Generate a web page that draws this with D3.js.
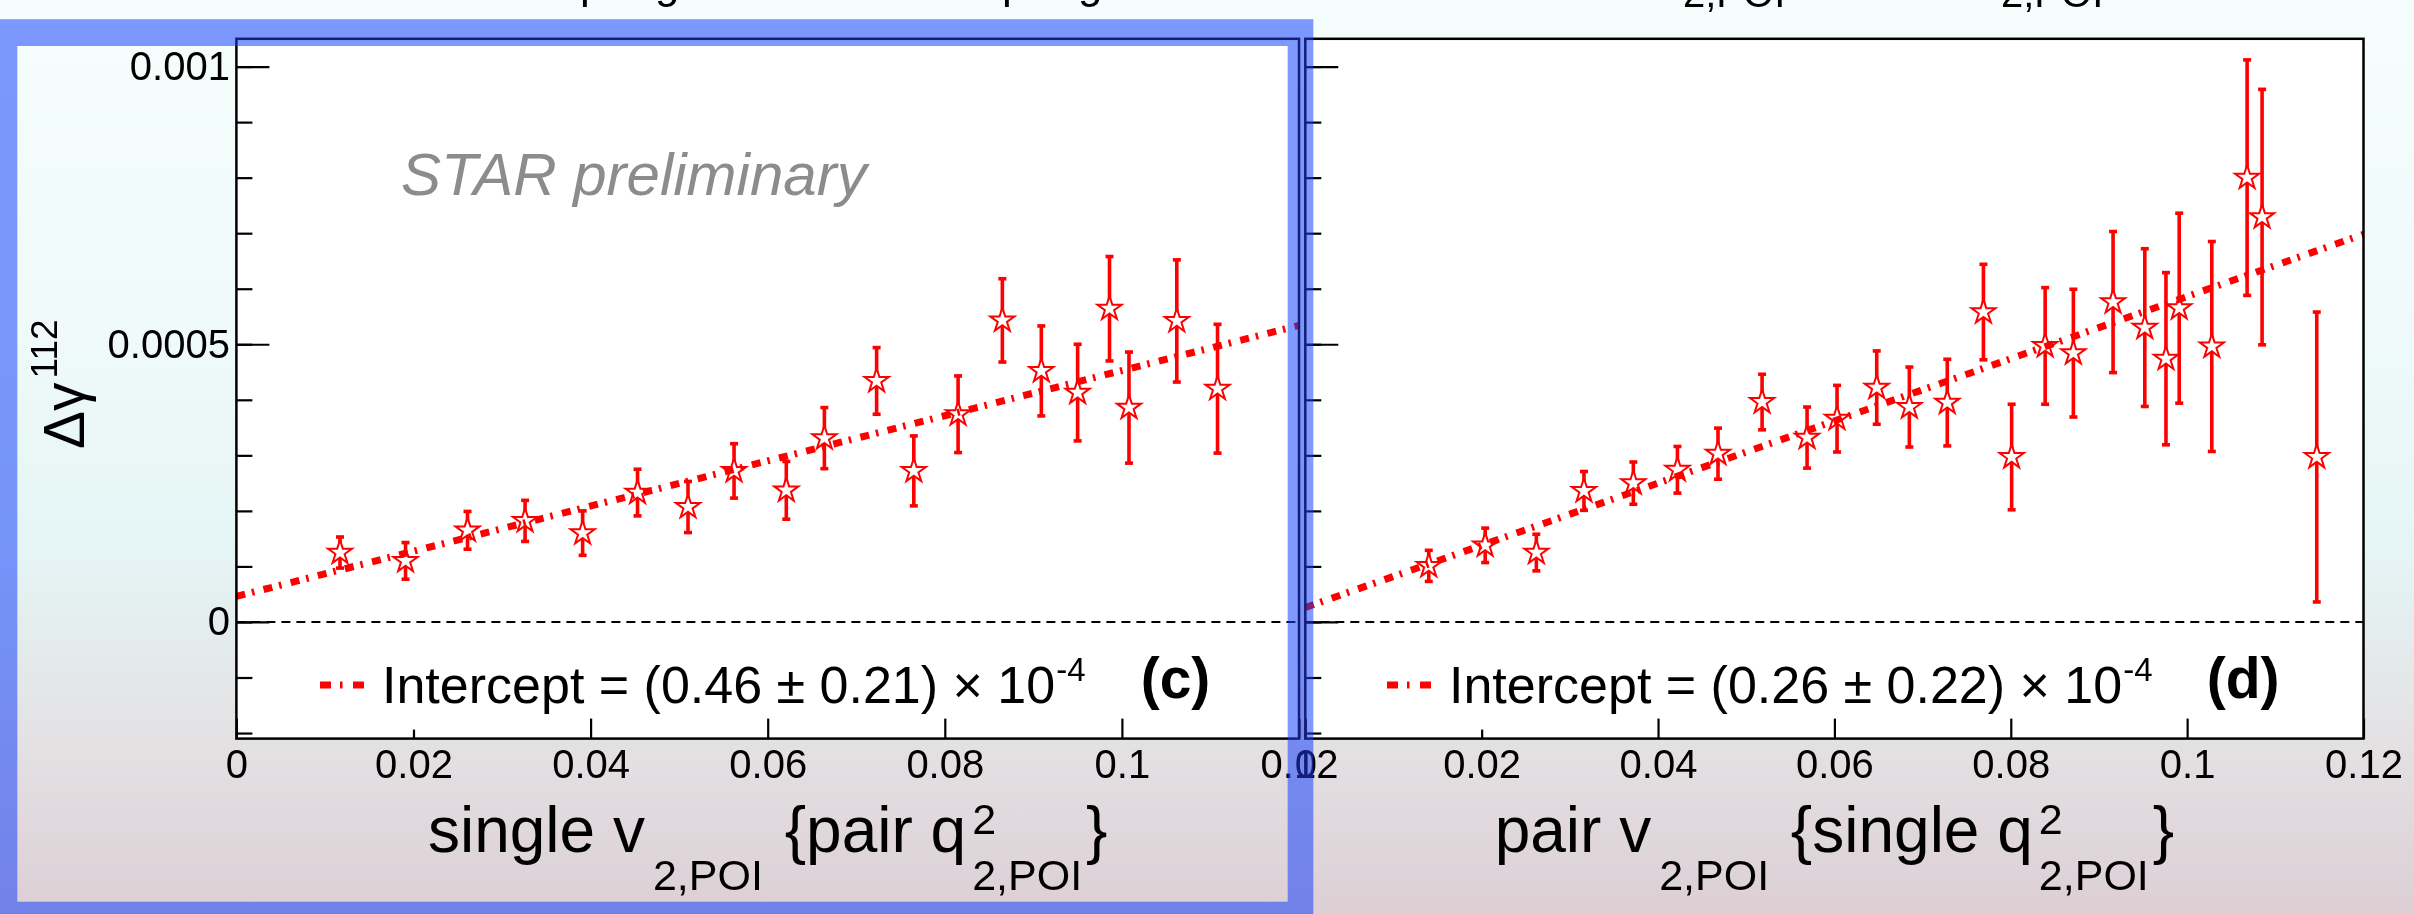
<!DOCTYPE html>
<html>
<head>
<meta charset="utf-8">
<script src="https://cdn.jsdelivr.net/npm/d3@7"></script>
<style>
  html, body { margin: 0; padding: 0; background: #f6fdfd; overflow: hidden; }
  svg { display: block; font-family: 'Liberation Sans', Arial, Helvetica, sans-serif; }
</style>
</head>
<body>
<div id="chart"></div>
<script>
// axis ticks
const xTickValues = [0, 0.02, 0.04, 0.06, 0.08, 0.1, 0.12];
const xTickLabels = ['0', '0.02', '0.04', '0.06', '0.08', '0.1', '0.12'];
const yTickValues = [0, 0.0005, 0.001];
const yTickLabels = ['0', '0.0005', '0.001'];

// panel (c): single v2 {pair q2}
const singleV2 = [0.0117, 0.0191, 0.0261, 0.0326, 0.0391, 0.0453, 0.0510, 0.0562, 0.0621, 0.0664,
                  0.0723, 0.0765, 0.0815, 0.0865, 0.0909, 0.0950, 0.0986, 0.1008, 0.1062, 0.1108];
const gammaC = [1.25e-4, 1.10e-4, 1.65e-4, 1.82e-4, 1.60e-4, 2.33e-4, 2.07e-4, 2.72e-4, 2.37e-4, 3.31e-4,
                4.34e-4, 2.72e-4, 3.74e-4, 5.43e-4, 4.52e-4, 4.13e-4, 5.64e-4, 3.86e-4, 5.42e-4, 4.20e-4];
const errC = [0.28e-4, 0.33e-4, 0.34e-4, 0.37e-4, 0.40e-4, 0.42e-4, 0.46e-4, 0.49e-4, 0.52e-4, 0.55e-4,
              0.60e-4, 0.63e-4, 0.69e-4, 0.75e-4, 0.81e-4, 0.87e-4, 0.94e-4, 1.00e-4, 1.10e-4, 1.16e-4];
const fitC = [[0, 0.46e-4], [0.12, 5.34e-4]];

// panel (d): pair v2 {single q2}
const pairV2 = [0.0140, 0.0204, 0.0262, 0.0316, 0.0372, 0.0422, 0.0468, 0.0518, 0.0569, 0.0603,
                0.0648, 0.0685, 0.0728, 0.0769, 0.0801, 0.0839, 0.0871, 0.0916, 0.0952, 0.0976,
                0.0991, 0.1028, 0.1068, 0.1085, 0.1147];
const gammaD = [1.01e-4, 1.38e-4, 1.25e-4, 2.36e-4, 2.50e-4, 2.74e-4, 3.03e-4, 3.96e-4, 3.32e-4, 3.66e-4,
                4.22e-4, 3.87e-4, 3.95e-4, 5.58e-4, 2.97e-4, 4.97e-4, 4.84e-4, 5.76e-4, 5.30e-4, 4.74e-4,
                5.65e-4, 4.96e-4, 8.00e-4, 7.29e-4, 2.97e-4];
const errD = [0.28e-4, 0.31e-4, 0.33e-4, 0.35e-4, 0.38e-4, 0.42e-4, 0.46e-4, 0.50e-4, 0.55e-4, 0.60e-4,
              0.66e-4, 0.72e-4, 0.78e-4, 0.86e-4, 0.95e-4, 1.05e-4, 1.15e-4, 1.27e-4, 1.42e-4, 1.55e-4,
              1.71e-4, 1.89e-4, 2.12e-4, 2.30e-4, 2.61e-4];
const fitD = [[0, 0.26e-4], [0.12, 6.98e-4]];

const RED = '#ff0000';

// lays out a row of text pieces (sub/superscripts) one after another
function richText(parent, parts) {
    const g = parent.append('g');
    let x = 0, pending = 0;
    parts.forEach(p => {
        const t = g.append('text')
            .attr('x', x)
            .attr('y', p.dy || 0)
            .attr('xml:space', 'preserve')
            .style('white-space', 'pre')
            .style('font-size', p.size + 'px')
            .text(p.text);
        const w = t.node().getComputedTextLength();
        if (p.stack) {
            pending = w;
        } else {
            x += Math.max(w, pending) + (p.gap || 0);
            pending = 0;
        }
    });
    g.width = x;
    return g;
}

class Panel {
    constructor(svg, config, data) {
        this.svg = svg;
        this.config = config;
        this.data = data;
        this.initVis();
    }

    initVis() {
        let vis = this;
        const c = vis.config;

        vis.xScale = d3.scaleLinear().domain([0, 0.12]).range([c.x0, c.x1]);
        vis.yScale = d3.scaleLinear().domain([-0.00021, 0.00105]).range([738.6, 38.8]);

        const [top, bottom] = [vis.yScale.range()[1], vis.yScale.range()[0]];
        vis.g = vis.svg.append('g');

        vis.g.append('rect')
            .attr('x', c.x0).attr('y', top)
            .attr('width', c.x1 - c.x0).attr('height', bottom - top)
            .attr('fill', '#ffffff');

        // zero line
        vis.g.append('line')
            .attr('x1', c.x0).attr('x2', c.x1)
            .attr('y1', vis.yScale(0)).attr('y2', vis.yScale(0))
            .attr('stroke', '#000').attr('stroke-width', 2)
            .attr('stroke-dasharray', '9,6');

        vis.drawAxes();
        vis.drawPoints();

        // linear fit
        vis.g.append('path')
            .datum(c.fit)
            .attr('d', d3.line().x(d => vis.xScale(d[0])).y(d => vis.yScale(d[1])))
            .attr('fill', 'none')
            .attr('stroke', RED)
            .attr('stroke-width', 7)
            .attr('stroke-dasharray', '9,7,2.5,9.5');

        // frame
        vis.g.append('rect')
            .attr('x', c.x0).attr('y', top)
            .attr('width', c.x1 - c.x0).attr('height', bottom - top)
            .attr('fill', 'none')
            .attr('stroke', '#000').attr('stroke-width', 2.5);

        vis.drawLegend();

        vis.g.append('text')
            .attr('x', c.tagX).attr('y', 698)
            .style('font-size', '57px').style('font-weight', 'bold')
            .text(c.tag);

        // x axis title
        const title = richText(vis.g, c.title);
        title.attr('transform', `translate(${(c.x0 + c.x1) / 2 - title.width / 2},852)`);
    }

    drawAxes() {
        let vis = this;
        const c = vis.config;
        const bottom = vis.yScale.range()[0];

        const yMinor = vis.g.append('g')
            .attr('transform', `translate(${c.x0},0)`)
            .call(d3.axisLeft(vis.yScale).ticks(12).tickSize(-16).tickFormat(''));
        yMinor.select('.domain').remove();

        const yMajor = vis.g.append('g')
            .attr('transform', `translate(${c.x0},0)`)
            .style('font-size', '40px')
            .call(d3.axisLeft(vis.yScale)
                .tickValues(yTickValues)
                .tickSize(-33)
                .tickPadding(6.5)
                .tickFormat((d, i) => c.yLabels ? yTickLabels[i] : ''));
        yMajor.select('.domain').remove();

        const xAxis = vis.g.append('g')
            .attr('transform', `translate(0,${bottom})`)
            .style('font-size', '40px')
            .call(d3.axisBottom(vis.xScale)
                .tickValues(xTickValues)
                .tickSize(-20)
                .tickPadding(11)
                .tickFormat((d, i) => xTickLabels[i]));
        xAxis.select('.domain').remove();
        xAxis.selectAll('.tick line')
            .filter(d => d === 0.02)
            .attr('y2', -9);

        vis.g.selectAll('.tick line').attr('stroke', '#000').attr('stroke-width', 2.2);
        vis.g.selectAll('.tick text').attr('fill', '#000');
    }

    drawPoints() {
        let vis = this;
        const pts = vis.data.x.map((x, i) => ({ x, y: vis.data.y[i], e: vis.data.e[i] }));

        const bars = vis.g.append('g').attr('stroke', RED);
        bars.selectAll('.bar')
            .data(pts)
            .join('line')
            .attr('class', 'bar')
            .attr('x1', d => vis.xScale(d.x)).attr('x2', d => vis.xScale(d.x))
            .attr('y1', d => vis.yScale(d.y - d.e)).attr('y2', d => vis.yScale(d.y + d.e))
            .attr('stroke-width', 3.6);
        ['lo', 'hi'].forEach(k => {
            bars.selectAll('.cap-' + k)
                .data(pts)
                .join('line')
                .attr('class', 'cap-' + k)
                .attr('x1', d => vis.xScale(d.x) - 4).attr('x2', d => vis.xScale(d.x) + 4)
                .attr('y1', d => vis.yScale(k === 'lo' ? d.y - d.e : d.y + d.e))
                .attr('y2', d => vis.yScale(k === 'lo' ? d.y - d.e : d.y + d.e))
                .attr('stroke-width', 3.6);
        });

        vis.g.selectAll('.star')
            .data(pts)
            .join('path')
            .attr('class', 'star')
            .attr('d', d3.symbol().type(d3.symbolStar).size(180))
            .attr('transform', d => `translate(${vis.xScale(d.x)},${vis.yScale(d.y)})`)
            .attr('fill', '#fff')
            .attr('stroke', RED)
            .attr('stroke-width', 2);
    }

    drawLegend() {
        let vis = this;
        const c = vis.config;

        vis.g.append('line')
            .attr('x1', c.legendX).attr('x2', c.legendX + 48)
            .attr('y1', 685).attr('y2', 685)
            .attr('stroke', RED).attr('stroke-width', 7)
            .attr('stroke-dasharray', '11,9,2.5,10.5');

        const txt = richText(vis.g, [
            { text: c.legendText, size: 52, gap: 1 },
            { text: '-4', size: 33, dy: -22 }
        ]);
        txt.attr('transform', `translate(${c.legendX + 62},703)`);
    }
}

const svg = d3.select('#chart').append('svg')
    .attr('width', 2414)
    .attr('height', 914);

const defs = svg.append('defs');
const bg = defs.append('linearGradient')
    .attr('id', 'slide-bg')
    .attr('x1', 0).attr('y1', 0).attr('x2', 0).attr('y2', 1);
[['0%', '#f6fdfd'], ['35%', '#f0fafa'], ['60%', '#e5f5f5'], ['80%', '#e4e2e4'], ['100%', '#dccfd5']]
    .forEach(([o, col]) => bg.append('stop').attr('offset', o).attr('stop-color', col));

svg.append('rect').attr('width', 2414).attr('height', 914).attr('fill', 'url(#slide-bg)');

// bits of the slide title cut off at the top edge
const clipped = svg.append('g').style('font-size', '44px').attr('fill', '#000');
[['p', 580], ['g', 655], ['p', 1002], ['g', 1078]].forEach(([t, x]) =>
    clipped.append('text').attr('x', x).attr('y', -2).text(t));
[1683, 2001].forEach(x =>
    clipped.append('text').attr('x', x).attr('y', 7).style('font-size', '40px').text('2,POI'));

const sub = 43;
new Panel(svg, {
    x0: 236.4, x1: 1299,
    fit: fitC,
    yLabels: true,
    legendX: 320,
    legendText: 'Intercept = (0.46 ± 0.21) × 10',
    tag: '(c)', tagX: 1140.7,
    title: [
        { text: 'single v', size: 64, gap: 8 },
        { text: '2,POI', size: sub, dy: 38, gap: 4 },
        { text: ' {pair q', size: 64, gap: 6 },
        { text: '2', size: sub, dy: -18, stack: true },
        { text: '2,POI', size: sub, dy: 38, gap: 4 },
        { text: '}', size: 64 }
    ]
}, { x: singleV2, y: gammaC, e: errC });

new Panel(svg, {
    x0: 1305.3, x1: 2363.5,
    fit: fitD,
    yLabels: false,
    legendX: 1387,
    legendText: 'Intercept = (0.26 ± 0.22) × 10',
    tag: '(d)', tagX: 2206.7,
    title: [
        { text: 'pair v', size: 64, gap: 8 },
        { text: '2,POI', size: sub, dy: 38, gap: 4 },
        { text: ' {single q', size: 64, gap: 6 },
        { text: '2', size: sub, dy: -18, stack: true },
        { text: '2,POI', size: sub, dy: 38, gap: 4 },
        { text: '}', size: 64 }
    ]
}, { x: pairV2, y: gammaD, e: errD });

// y axis title, shared
const yTitle = richText(svg, [
    { text: 'Δγ', size: 57, gap: 4 },
    { text: '112', size: 37, dy: -27 }
]);
yTitle.attr('transform', 'translate(84,449) rotate(-90)');

svg.append('text')
    .attr('x', 401).attr('y', 195)
    .style('font-size', '60px').style('font-style', 'italic')
    .attr('fill', '#8c8c8c')
    .text('STAR preliminary');

// blue selection frame around panel (c)
const framePath = 'M0,19.3H1313.3V920H0Z M17.3,46V901.7H1287.7V46Z';
svg.append('path')
    .attr('d', framePath)
    .attr('fill-rule', 'evenodd')
    .attr('fill', 'rgb(204,232,255)')
    .style('mix-blend-mode', 'multiply');
svg.append('path')
    .attr('d', framePath)
    .attr('fill-rule', 'evenodd')
    .attr('fill', 'rgb(42,64,255)')
    .attr('fill-opacity', 0.47);
</script>
</body>
</html>
